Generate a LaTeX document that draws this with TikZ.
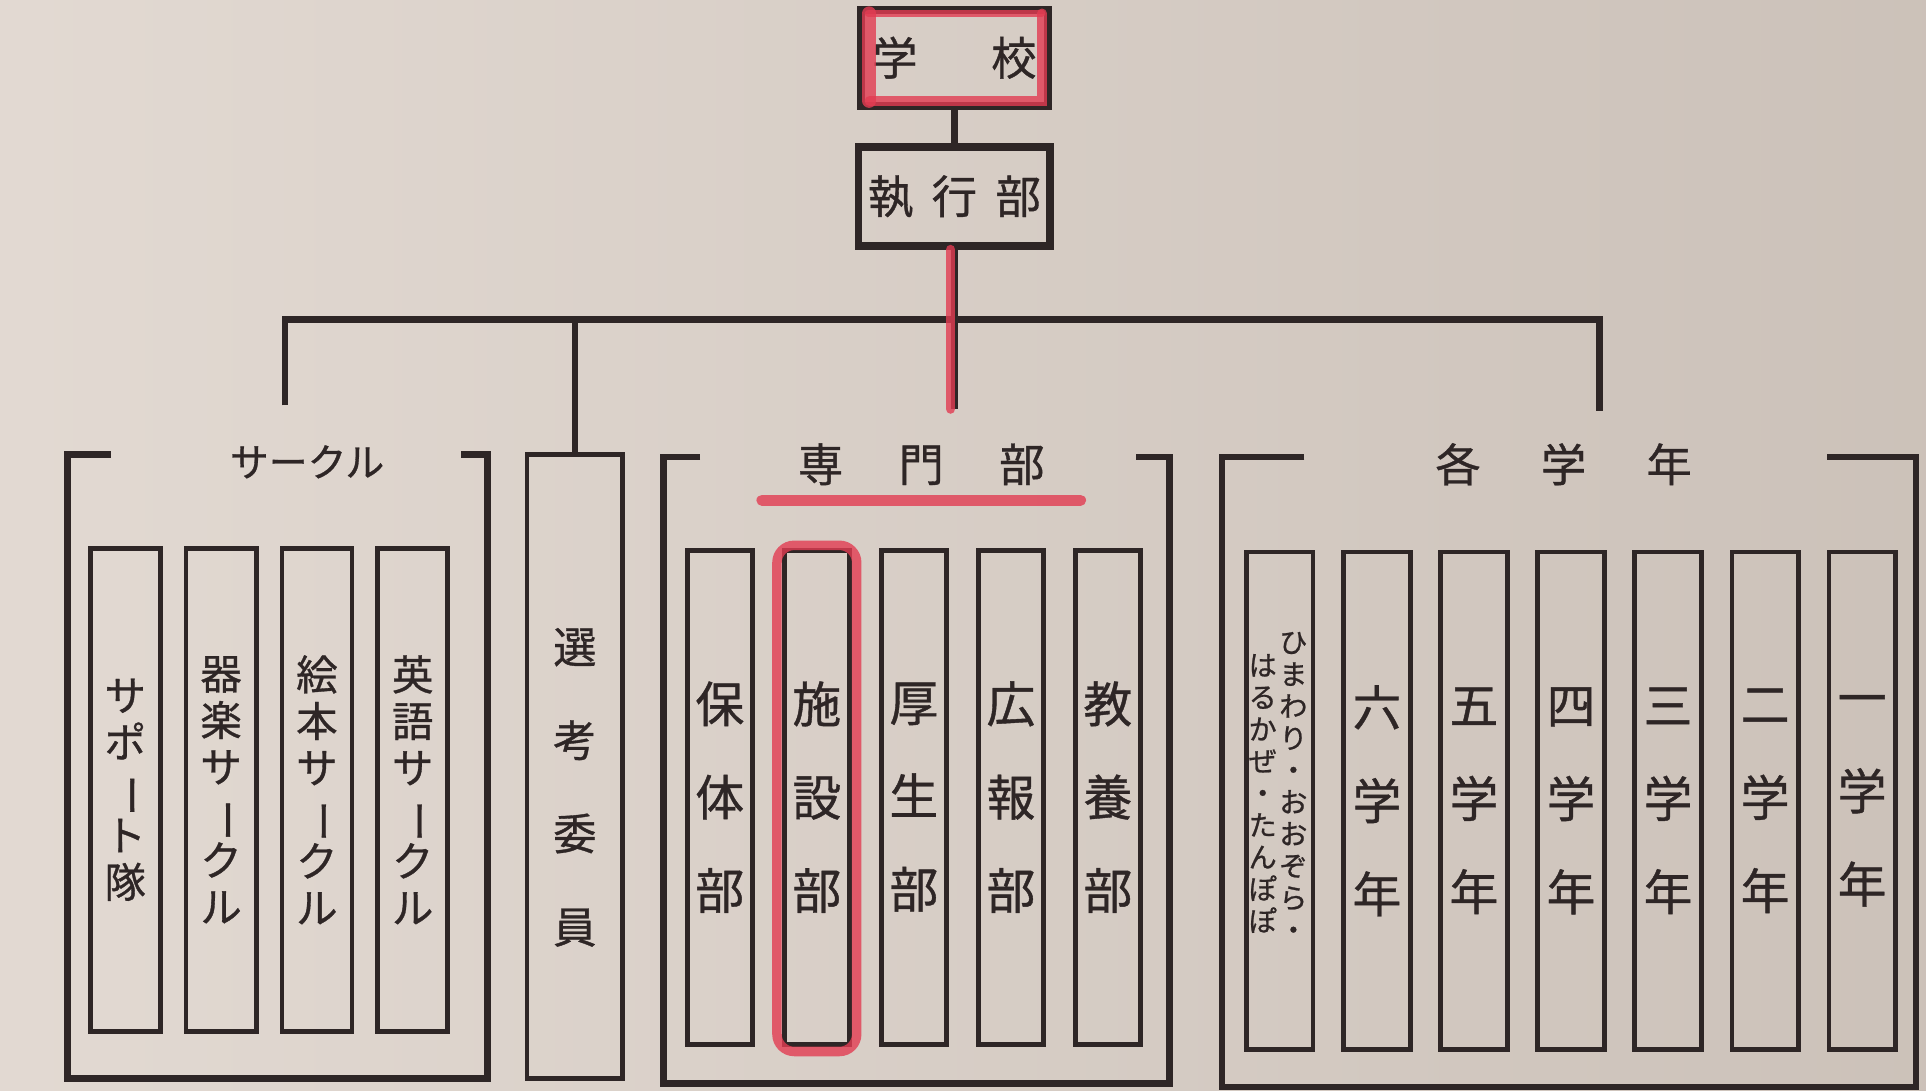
\documentclass[tikz,border=0pt]{standalone}
\usepackage{fontspec}
\usepackage{graphicx}
\setmainfont{Noto Sans CJK JP}[FakeBold=0.8]
\usetikzlibrary{calc}
\definecolor{paper}{RGB}{219,208,199}
\definecolor{ink}{RGB}{46,38,38}
\definecolor{marker}{RGB}{226,60,82}
\newcommand{\chou}{\rotatebox[origin=c]{-90}{ー}}

\begin{document}
\begin{tikzpicture}[x=0.01cm, y=-0.01cm,
    wire/.style={draw=ink, line width=1.5pt},
    topbox/.style={draw=ink, line width=1.8pt, inner sep=0pt, text=ink, font=\fontsize{10.5}{12}\selectfont},
    colbox/.style={draw=ink, line width=1.1pt, inner sep=0pt, align=center, text=ink},
    grouplbl/.style={text=ink, inner sep=1pt, font=\fontsize{10.5}{12}\selectfont},
    redmark/.style={draw=marker, line width=2.2pt, opacity=0.8, line cap=round}]

	% Paper
	\useasboundingbox (0,0) rectangle (1568,888);
	\shade[left color=paper!80!white, right color=paper!93!black] (0,0) rectangle (1568,888);

	% Top
	\node[topbox, minimum width=1.52cm, minimum height=0.78cm] (school) at (777,47) {学\hspace{0.6cm}校};
	\node[topbox, minimum width=1.56cm, minimum height=0.80cm] (exec) at (777,160) {執\hspace{0.15cm}行\hspace{0.15cm}部};

	% Group labels
	\node[grouplbl, font=\fontsize{9}{11}\selectfont] (circlbl) at (250,376) {サークル};
	\node[grouplbl] (senlbl) at (750,378) {専\hspace{0.45cm}門\hspace{0.45cm}部};
	\node[grouplbl] (gaklbl) at (1273,378) {各\hspace{0.49cm}学\hspace{0.49cm}年};

	% Group frames
	\draw[wire] (90,370) -| (55,878) -| (397,370) -- (375,370);
	\draw[wire] (570,372) -| (540,882) -| (952,372) -- (925,372);
	\draw[wire] (1062,372) -| (995,885) -| (1560,372) -- (1487,372);

	% Circles
	\foreach \t [count=\i, evaluate=\i as \xx using 24+78*\i] in {{サ\\ポ\\\chou\\ト\\隊},{器\\楽\\サ\\\chou\\ク\\ル},{絵\\本\\サ\\\chou\\ク\\ル},{英\\語\\サ\\\chou\\ク\\ル}}
		\node[colbox, minimum width=0.57cm, minimum height=3.93cm, font=\fontsize{9.6}{10.8}\selectfont] (circ\i) at (\xx,643) {\t};

	% Senko
	\node[colbox, minimum width=0.78cm, minimum height=5.08cm] (senko) at (468,624) {};
	\node[text=ink, align=center, inner sep=0pt, font=\fontsize{10}{21.6}\selectfont] (senkotxt) at ($(senko.center)+(0,17)$) {選\\考\\委\\員};

	% Senmon
	\foreach \t [count=\i, evaluate=\i as \xx using 507+79*\i] in {{保\\体\\部},{施\\設\\部},{厚\\生\\部},{広\\報\\部},{教\\養\\部}}
		\node[colbox, minimum width=0.53cm, minimum height=4.02cm, font=\fontsize{11.3}{21.6}\selectfont] (sen\i) at (\xx,649) {\t};

	% Grades
	\node[colbox, minimum width=0.54cm, minimum height=4.05cm] (gak1) at (1042,652) {};
	\node[text=ink, align=center, inner sep=0pt, font=\fontsize{6.5}{7.4}\selectfont] (himawari) at ($(gak1.center)+(11,-12)$) {ひ\\ま\\わ\\り\\・\\お\\お\\ぞ\\ら\\・};
	\node[text=ink, align=center, inner sep=0pt, font=\fontsize{6.5}{7.4}\selectfont] (harukaze) at ($(gak1.center)+(-14,-6)$) {は\\る\\か\\ぜ\\・\\た\\ん\\ぽ\\ぽ};
	\foreach \t [count=\i from 2, evaluate=\i as \xx using 963+79*\i] in {{六\\学\\年},{五\\学\\年},{四\\学\\年},{三\\学\\年},{二\\学\\年},{一\\学\\年}}
		\node[colbox, minimum width=0.54cm, minimum height=4.05cm, font=\fontsize{11.3}{21.6}\selectfont] (gak\i) at (\xx,652) {\t};

	% Connectors
	\coordinate (busL) at (232,260);
	\coordinate (busR) at (1302,260);
	\coordinate (circtop) at (232,330);
	\coordinate (gaktop) at (1302,335);
	\coordinate (sentop) at (777,333);
	\draw[wire] (school) -- (exec);
	\draw[wire] (exec) -- (sentop);
	\draw[wire] (circtop) -- (busL) -- (busR) -- (gaktop);
	\draw[wire] (senko.north) -- (senko.north |- busL);

	% Red marks
	\draw[redmark, line width=1.6pt] ($(school.north west)+(9,6)$) -- ($(school.north east)+(-8,6)$);
	\draw[redmark] ($(school.north east)+(-8,6)$) -- ($(school.south east)+(-8,-7)$) -- ($(school.south west)+(10,-7)$);
	\draw[redmark, line width=3.2pt] ($(school.south west)+(10,-7)$) -- ($(school.north west)+(10,6)$);
	\draw[redmark] ($(exec.south)+(-3,0)$) -- ($(sentop)+(-3,0)$);
	\draw[redmark, line width=2.6pt] ($(senlbl.south west)+(-25,8)$) -- ($(senlbl.south east)+(25,8)$);
	\draw[redmark, rounded corners=4pt] ($(sen2.north west)+(-4,-2)$) rectangle ($(sen2.south east)+(4,4)$);
\end{tikzpicture}
\end{document}
